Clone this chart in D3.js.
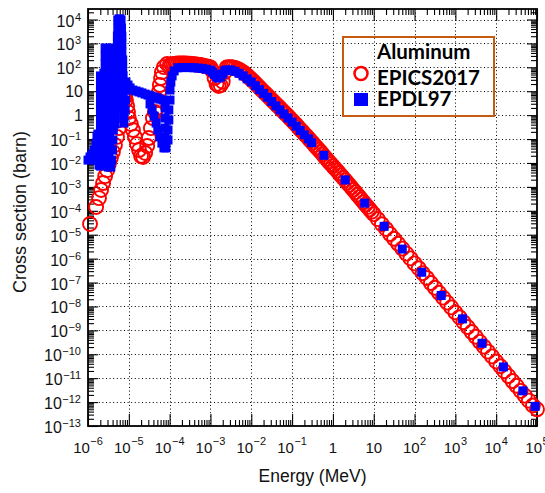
<!DOCTYPE html>
<html><head><meta charset="utf-8">
<script src="https://cdn.jsdelivr.net/npm/d3@7"></script>
<style>body{margin:0;background:#fff;}svg{display:block;}</style>
</head><body>
<svg id="c" width="545" height="493"></svg>
<script>
// ---------------- data (energy in MeV, cross section in barn) ----------------
const epicsLowE = [1.12e-6,1.58e-6,1.86e-6,2.09e-6,2.34e-6,2.63e-6,2.95e-6,3.24e-6,3.63e-6,4.07e-6,4.57e-6,5.13e-6,5.75e-6,6.03e-6,6.2e-6,6.46e-6,6.61e-6,6.76e-6,7.24e-6,7.7e-6,8.13e-6,8.51e-6,9.12e-6,9.55e-6,1e-5,1.12e-5,1.26e-5,1.41e-5,1.58e-5,1.78e-5,2e-5,2.24e-5,2.51e-5,2.82e-5,3.09e-5,3.47e-5,3.89e-5,4.37e-5,4.9e-5,5.13e-5,5.5e-5,5.75e-5,6.17e-5,6.46e-5,7.24e-5,8.71e-5];
const epicsLowXS = [2.82e-5,1.45e-4,3.39e-4,7.41e-4,1.45e-3,2.82e-3,5.01e-3,9.12e-3,0.0162,0.0288,0.0562,0.123,0.288,0.631,1.01,1.66,2.40,3.55,5.75,6.0,5.75,4.27,2.40,1.35,0.759,0.427,0.240,0.123,0.0617,0.0347,0.0195,0.0178,0.0263,0.0513,0.110,0.288,0.759,1.35,2.00,4.27,9.33,18.2,35.5,63.1,102,138];

const epicsE = [1e-4,1.12e-4,1.26e-4,1.41e-4,1.58e-4,1.78e-4,2e-4,2.24e-4,2.51e-4,2.82e-4,3.16e-4,3.55e-4,3.98e-4,4.47e-4,5.01e-4,5.62e-4,6.31e-4,7.08e-4,7.94e-4,8.91e-4,
 1e-3,1.12e-3,1.26e-3,1.41e-3,1.58e-3,1.78e-3,2e-3,2.24e-3,2.51e-3,2.82e-3,3.16e-3,3.55e-3,3.98e-3,4.47e-3,5.01e-3,5.62e-3,6.31e-3,7.08e-3,7.94e-3,8.91e-3,
 1e-2,1.12e-2,1.26e-2,1.41e-2,1.58e-2,1.78e-2,2e-2,2.24e-2,2.51e-2,2.82e-2,3.16e-2,3.55e-2,3.98e-2,4.47e-2,5.01e-2,5.62e-2,6.31e-2,7.08e-2,7.94e-2,8.91e-2,
 0.1,0.112,0.126,0.141,0.158,0.178,0.2,0.224,0.251,0.282,0.316,0.355,0.398,0.447,0.501,0.562,0.631,0.708,0.794,0.891,
 1,1.12,1.26,1.41,1.58,1.78,2,2.24,2.51,2.82,3.16,3.55,3.98,4.47,5.01,5.62,6.31,7.08,7.94,8.91,10];
const epicsXS = [120,132,138,141,145,145,145,145,145,141,141,138,135,132,129,126,120,115,110,105,
 100,70.8,35.5,20.0,16.6,17.8,25.1,63.1,100,102,102,100,93.3,87.1,79.4,70.8,63.1,53.7,45.7,38.0,
 31.6,26.3,21.4,17.8,14.5,11.7,9.55,7.94,6.61,5.37,4.37,3.63,2.95,2.45,2.00,1.62,1.35,1.10,0.912,0.741,
 0.603,0.490,0.398,0.316,0.257,0.209,0.166,0.135,0.110,0.0871,0.0708,0.0562,0.0447,0.0363,0.0288,0.0229,0.0182,0.0145,0.0115,0.00912,
 0.00741,0.00589,0.00479,0.00380,0.00302,0.00240,0.00191,0.00151,0.00120,9.55e-4,7.59e-4,6.03e-4,4.68e-4,3.72e-4,2.95e-4,2.29e-4,1.82e-4,1.45e-4,1.15e-4,9.12e-5,7.24e-5];

const epicsTailE = [12.6,15.8,20,25.1,31.6,39.8,50.1,63.1,79.4,100,126,158,200,251,316,398,501,631,794,1000,1260,1580,2000,2510,3160,3980,5010,6310,7940,1e4,1.26e4,1.58e4,2e4,2.51e4,3.16e4,3.98e4,5.01e4,6.31e4,7.94e4,1e5];
const epicsTailXS = [4.47e-5,2.75e-5,1.74e-5,1.07e-5,6.76e-6,4.17e-6,2.63e-6,1.62e-6,1.02e-6,6.31e-7,3.98e-7,2.45e-7,1.55e-7,9.55e-8,6.03e-8,3.72e-8,2.34e-8,1.45e-8,9.12e-9,5.62e-9,3.55e-9,2.19e-9,1.38e-9,8.51e-10,5.37e-10,3.31e-10,2.09e-10,1.29e-10,8.13e-11,5.01e-11,3.16e-11,1.95e-11,1.23e-11,7.59e-12,4.79e-12,2.95e-12,1.86e-12,1.15e-12,7.24e-13,5.01e-13];

const epdlLowE = [1e-6,1.12e-6,1.26e-6,1.41e-6,1.58e-6,1.66e-6,1.74e-6,
 1.41e-6,1.66e-6,1.66e-6,1.86e-6,
 1.86e-6,1.91e-6,1.95e-6,2.04e-6,
 2.02e-6,2.02e-6,2.02e-6,2.02e-6,2.02e-6,2.02e-6,2.02e-6,2.02e-6,2.02e-6,2.02e-6,2.02e-6,
 2.09e-6,2.14e-6,2.19e-6,2.19e-6,2.29e-6,2.29e-6,2.34e-6,2.34e-6,2.40e-6,2.40e-6,2.45e-6,2.45e-6,
 2.63e-6,2.63e-6,2.63e-6,2.69e-6,2.69e-6,2.75e-6,2.75e-6,2.82e-6,2.82e-6,2.95e-6,2.95e-6,3.02e-6,3.02e-6,3.09e-6,3.09e-6,3.16e-6,
 3.24e-6,3.24e-6,3.39e-6,3.39e-6,3.47e-6,3.47e-6,3.55e-6,3.55e-6,3.63e-6,3.63e-6,3.63e-6,3.80e-6,3.80e-6,3.89e-6,3.89e-6,
 3.63e-6,3.80e-6,3.98e-6,4.07e-6,4.17e-6,
 3.98e-6,4.07e-6,4.07e-6,4.07e-6,4.17e-6,4.17e-6,4.37e-6,4.37e-6,4.47e-6,4.57e-6,
 4.68e-6,4.90e-6,4.90e-6,4.90e-6,5.01e-6,5.01e-6,5.13e-6,5.13e-6,5.13e-6,5.25e-6,5.25e-6,5.37e-6,5.37e-6,
 5.75e-6,6.03e-6,6.46e-6,
 6.61e-6,6.76e-6,6.76e-6,6.76e-6,7.08e-6,7.08e-6,7.24e-6,7.24e-6,7.24e-6,7.41e-6,7.41e-6,7.59e-6,7.59e-6,
 8.13e-6,8.32e-6,8.51e-6,
 8.51e-6,9.55e-6,1.07e-5,1.26e-5,1.51e-5,1.78e-5,2.09e-5,2.51e-5,2.95e-5,3.47e-5,4.17e-5,4.90e-5,5.75e-5,6.92e-5,
 3.31e-5,3.72e-5,4.17e-5,4.68e-5,5.13e-5,5.75e-5,6.46e-5,7.24e-5,8.13e-5,7.76e-5,7.76e-5,7.76e-5,7.76e-5,
 9.12e-5,9.12e-5,9.55e-5,9.55e-5,1.02e-4,1.02e-4,1.07e-4,1.15e-4,1.29e-4];
const epdlLowXS = [0.0132,0.0178,0.0234,0.0347,0.0676,0.123,0.162,
 0.0132,0.0132,0.0347,0.00813,
 0.0759,0.0347,0.0162,0.00741,
 43.7,20.0,9.33,4.27,2.00,0.912,0.427,0.195,0.0912,0.0427,0.0195,
 0.0132,0.0288,0.0617,0.135,0.288,0.631,1.35,2.95,6.31,13.8,29.5,57.5,
 646,295,138,63.1,29.5,13.8,6.31,2.95,1.35,0.631,0.288,0.135,0.0617,0.0288,0.0132,0.00676,
 0.0148,0.0316,0.0676,0.148,0.316,0.692,1.48,3.24,6.92,15.1,32.4,70.8,151,331,646,
 0.00676,0.0132,0.0347,0.0912,0.240,
 295,138,63.1,29.5,13.8,6.31,2.95,1.35,0.631,0.427,
 0.912,2.00,4.27,9.33,20.0,43.7,93.3,204,437,955,2040,4370,9550,
 1.05e4,1.05e4,9550,
 4370,2040,955,437,204,93.3,43.7,20.0,9.33,4.27,2.00,0.912,0.468,
 1.66,4.27,11.2,
 24.5,18.2,13.8,11.2,10.2,9.33,8.51,7.59,6.92,6.31,5.75,5.25,4.68,4.27,
 2.95,1.66,0.912,0.468,0.240,0.123,0.0676,0.0427,0.0427,2.00,0.759,0.288,0.110,
 0.0912,0.240,0.631,1.66,4.27,11.2,24.5,43.7,70.8];

const epdlE = [1.58e-4,2e-4,2.51e-4,3.16e-4,3.98e-4,5.01e-4,6.31e-4,7.94e-4,1e-3,1.12e-3,1.26e-3,1.41e-3,1.58e-3,1.78e-3,2e-3,2.24e-3,2.51e-3,3.16e-3,3.98e-3,5.01e-3,6.31e-3,7.94e-3,0.01,0.0126,0.0158,0.02,0.0251,0.0316,0.0398,0.0501,0.0631,0.0794,0.1,0.126,0.158,0.2,0.251];
const epdlXS = [95.5,97.7,97.7,97.7,95.5,93.3,89.1,83.2,75.9,63.1,50.1,39.8,35.5,39.8,52.5,70.8,77.6,77.6,67.6,56.2,43.7,33.1,24.5,17.0,11.7,8.13,5.62,3.72,2.45,1.66,1.12,0.759,0.513,0.347,0.229,0.151,0.102];

const epdlTailE = [0.3,0.6,2,6,18,50,150,450,1500,4500,1.5e4,4.5e4,9e4];
const epdlTailXS = [0.0708,0.0209,0.00195,2.09e-4,2.24e-5,2.51e-6,2.69e-7,2.88e-8,3.02e-9,2.88e-10,2.95e-11,2.95e-12,6.61e-13];

const xTickExp = [-6,-5,-4,-3,-2,-1,0,1,2,3,4,5];
const yTickExp = [-13,-12,-11,-10,-9,-8,-7,-6,-5,-4,-3,-2,-1,0,1,2,3,4];
const legendTitle = "Aluminum";
const seriesNames = ["EPICS2017","EPDL97"];
const xTitle = "Energy (MeV)";
const yTitle = "Cross section (barn)";

// ---------------- layout ----------------
const L = 88, R = 537, T = 9, B = 426;
const svg = d3.select("#c");
const x = d3.scaleLog().domain([1e-6, 1e5]).range([L, R]);
const y = d3.scaleLog().domain([1e-13, 2.75e4]).range([B, T]);

const xMajor = xTickExp.map(e => Math.pow(10, e));
const yMajor = yTickExp.map(e => Math.pow(10, e));
function minors(lo, hi, max) {
  const v = [];
  for (let k = lo; k < hi; k++) for (let m = 2; m <= 9; m++) { const t = m * Math.pow(10, k); if (t < max) v.push(t); }
  return v;
}
const xMinor = minors(-6, 5, 1e5);
const yMinor = minors(-13, 5, 2.75e4);

// grid
const grid = svg.append("g").attr("stroke", "#000").attr("stroke-width", 1).attr("stroke-dasharray", "1,2.6");
grid.selectAll(".gx").data(xMajor.slice(1, -1)).join("line").attr("class", "gx")
  .attr("x1", d => Math.round(x(d)) + 0.5).attr("x2", d => Math.round(x(d)) + 0.5).attr("y1", T).attr("y2", B);
grid.selectAll(".gy").data(yMajor.slice(1)).join("line").attr("class", "gy")
  .attr("y1", d => Math.round(y(d)) + 0.5).attr("y2", d => Math.round(y(d)) + 0.5).attr("x1", L).attr("x2", R);

// axes ticks (inward, ROOT style)
function tickAxis(gen, vals, size, tr) {
  const g = svg.append("g").attr("transform", tr)
    .call(gen.tickValues(vals).tickSize(size).tickFormat(() => ""));
  g.select(".domain").remove();
  g.selectAll("line").attr("stroke", "#000").attr("stroke-width", 1.1);
  return g;
}
tickAxis(d3.axisBottom(x), xMajor, -12, `translate(0,${B})`);
tickAxis(d3.axisBottom(x), xMinor, -6, `translate(0,${B})`);
tickAxis(d3.axisTop(x), xMajor, -12, `translate(0,${T})`);
tickAxis(d3.axisTop(x), xMinor, -6, `translate(0,${T})`);
tickAxis(d3.axisLeft(y), yMajor, -10, `translate(${L},0)`);
tickAxis(d3.axisLeft(y), yMinor, -6, `translate(${L},0)`);
tickAxis(d3.axisRight(y), yMajor, -10, `translate(${R},0)`);
tickAxis(d3.axisRight(y), yMinor, -6, `translate(${R},0)`);

svg.append("rect").attr("x", L).attr("y", T).attr("width", R - L).attr("height", B - T)
  .attr("fill", "none").attr("stroke", "#000").attr("stroke-width", 1.8);

// tick labels
const FONT = "'Liberation Sans', Arial, Helvetica, sans-serif";
function powLabel(sel, e, dy) {
  if (e === 0) { sel.text("1"); return; }
  if (e === 1) { sel.text("10"); return; }
  sel.append("tspan").text("10");
  sel.append("tspan").attr("dy", dy).attr("dx", 0.5).attr("font-size", 11).text(e < 0 ? "\u2212" + (-e) : String(e));
}
svg.append("g").selectAll("text").data(xTickExp).join("text")
  .attr("x", d => x(Math.pow(10, d))).attr("y", 453)
  .attr("text-anchor", "middle").attr("font-family", FONT).attr("font-size", 15).attr("fill", "#111")
  .each(function (d) { powLabel(d3.select(this), d, -8); });
svg.append("g").selectAll("text").data(yTickExp).join("text")
  .attr("x", d => (d === 0 || d === 1) ? 83 : 81)
  .attr("y", d => y(Math.pow(10, d)) + ((d === 0 || d === 1) ? 6 : 7))
  .attr("text-anchor", "end").attr("font-family", FONT).attr("font-size", 16).attr("fill", "#111")
  .each(function (d) { powLabel(d3.select(this), d, -6); });

// axis titles
svg.append("text").attr("x", (L + R) / 2).attr("y", 482).attr("text-anchor", "middle")
  .attr("font-family", FONT).attr("font-size", 17.5).attr("fill", "#111").text(xTitle);
svg.append("text").attr("transform", "translate(26,212) rotate(-90)").attr("text-anchor", "middle")
  .attr("font-family", FONT).attr("font-size", 18).attr("fill", "#111").text(yTitle);

// data
const epics = d3.zip(epicsLowE.concat(epicsE, epicsTailE), epicsLowXS.concat(epicsXS, epicsTailXS));
const epdl = d3.zip(epdlLowE.concat(epdlE, epdlTailE), epdlLowXS.concat(epdlXS, epdlTailXS));

svg.append("g").selectAll("circle").data(epics).join("circle")
  .attr("cx", d => x(d[0])).attr("cy", d => y(d[1])).attr("r", 7)
  .attr("fill", "none").attr("stroke", "#ff0000").attr("stroke-width", 1.9);
const S = 9;
svg.append("g").selectAll("rect").data(epdl).join("rect")
  .attr("x", d => x(d[0]) - S / 2).attr("y", d => y(d[1]) - S / 2).attr("width", S).attr("height", S)
  .attr("fill", "#0000ff");

// legend
const lg = svg.append("g");
lg.append("rect").attr("x", 343).attr("y", 37).attr("width", 151).attr("height", 79)
  .attr("fill", "none").attr("stroke", "#c55a11").attr("stroke-width", 2);
const LF = "Lato, 'Open Sans', sans-serif";
[[legendTitle, 59], [seriesNames[0], 85], [seriesNames[1], 106]].forEach(([t, by]) => {
  lg.append("text").attr("x", 377).attr("y", by).attr("font-family", LF).attr("font-weight", "bold")
    .attr("font-size", 20.5).attr("fill", "#000").text(t);
});
lg.append("circle").attr("cx", 361).attr("cy", 73.5).attr("r", 6.5).attr("fill", "none").attr("stroke", "#ff0000").attr("stroke-width", 2.5);
lg.append("rect").attr("x", 354).attr("y", 93).attr("width", 14).attr("height", 13).attr("fill", "#0000ff");
</script>
</body></html>
